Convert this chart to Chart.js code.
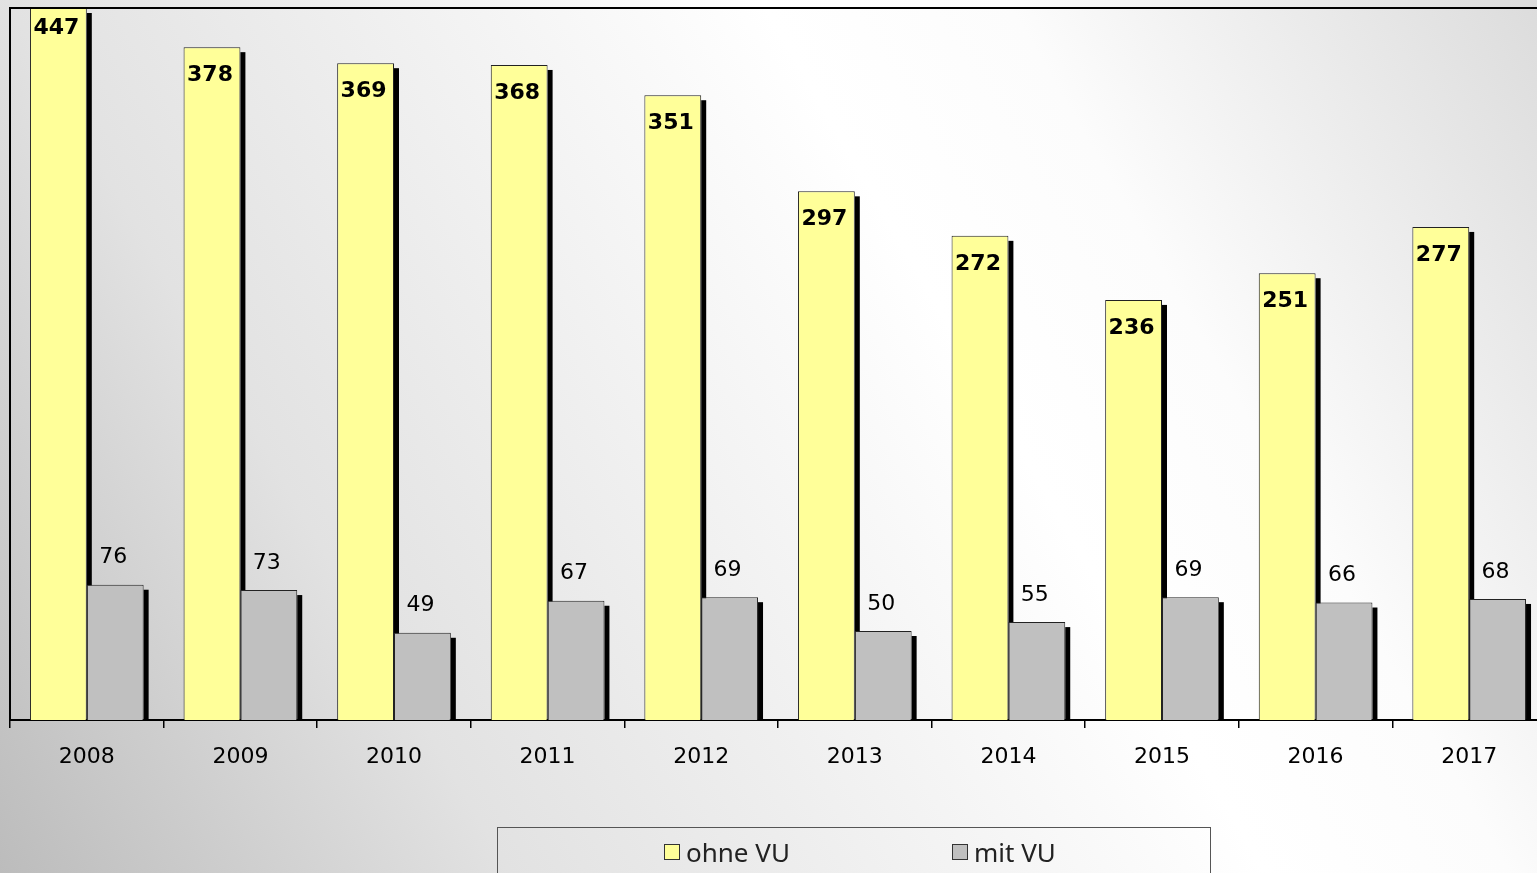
<!DOCTYPE html>
<html>
<head>
<meta charset="utf-8">
<script src="https://cdn.jsdelivr.net/npm/chart.js@4"></script>
<style>
  html, body { margin:0; padding:0; width:1537px; height:873px; overflow:hidden; }
  html { background: linear-gradient(60deg, #bcbcbc 0%, #e2e2e2 25%, #ffffff 62%, #fcfcfc 74%, #dcdcdc 100%); }
  #wrap { position:absolute; left:0; top:0; width:1550px; height:873px; }
  #legend { position:absolute; left:497px; top:827px; width:712px; height:60px; border:1.5px solid #555; font-family:"Noto Sans", sans-serif; font-size:26px; color:#222; }
  .item { position:absolute; top:6px; display:flex; align-items:center; white-space:nowrap; }
  .sw { width:14px; height:14px; border:1px solid #333; margin-right:6px; }
</style>
</head>
<body>
<div id="wrap"><canvas id="c" width="1550" height="873"></canvas></div>
<div id="legend"></div>
<script>
const categories = ["2008","2009","2010","2011","2012","2013","2014","2015","2016","2017"];
const seriesNames = ["ohne VU","mit VU"];
const ohneVU = [447,378,369,368,351,297,272,236,251,277];
const mitVU  = [76,73,49,67,69,50,55,69,66,68];
const seriesColors = ["#FFFF99","#C0C0C0"];

const legendEl = document.getElementById('legend');
const legendX = [166, 454];
seriesNames.forEach((n,i)=>{
  const d = document.createElement('div');
  d.className='item'; d.style.left = legendX[i]+'px';
  const s = document.createElement('span'); s.className='sw'; s.style.background = seriesColors[i];
  const t = document.createElement('span'); t.textContent = n;
  d.appendChild(s); d.appendChild(t); legendEl.appendChild(d);
});

const shadowPlugin = {
  id:'shadow',
  beforeDatasetsDraw(chart){
    const ctx = chart.ctx, a = chart.chartArea;
    ctx.save();
    ctx.beginPath(); ctx.rect(a.left, a.top, a.right-a.left, a.bottom-a.top); ctx.clip();
    ctx.fillStyle = '#000';
    chart.data.datasets.forEach((ds,di)=>{
      chart.getDatasetMeta(di).data.forEach(el=>{
        const top = Math.max(el.y, a.top);
        ctx.fillRect(el.x + el.width/2, top + 5, 5, el.base - top - 5);
      });
    });
    ctx.restore();
  }
};

const labelPlugin = {
  id:'labels',
  afterDatasetsDraw(chart){
    const ctx = chart.ctx, a = chart.chartArea;
    ctx.save();
    ctx.fillStyle = '#000';
    ctx.textAlign = 'center'; ctx.textBaseline = 'middle';
    chart.getDatasetMeta(0).data.forEach((el,i)=>{
      ctx.font = 'bold 22px "DejaVu Sans"';
      const y = Math.max(el.y + 28, a.top + 20);
      ctx.fillText(String(ohneVU[i]), el.x - 2, y);
    });
    chart.getDatasetMeta(1).data.forEach((el,i)=>{
      ctx.font = '22px "DejaVu Sans"';
      ctx.fillText(String(mitVU[i]), el.x - 2, el.y - 27);
    });
    ctx.restore();
  }
};

const framePlugin = {
  id:'frame',
  afterDraw(chart){
    const ctx = chart.ctx, a = chart.chartArea;
    ctx.save();
    ctx.strokeStyle = '#000'; ctx.lineWidth = 2;
    ctx.beginPath();
    ctx.moveTo(a.left, a.bottom); ctx.lineTo(a.left, a.top); ctx.lineTo(a.right, a.top);
    ctx.stroke();
    ctx.restore();
  }
};

new Chart(document.getElementById('c'), {
  type:'bar',
  data:{
    labels: categories,
    datasets:[
      { label: seriesNames[0], data: ohneVU, backgroundColor: seriesColors[0], borderColor:'#222', borderWidth:1 },
      { label: seriesNames[1], data: mitVU, backgroundColor: seriesColors[1], borderColor:'#222', borderWidth:1 }
    ]
  },
  options:{
    responsive:false, animation:false,
    layout:{ padding:{ left:10, top:8, right:4, bottom:0 } },
    datasets:{ bar:{ categoryPercentage:0.74, barPercentage:1.0 } },
    plugins:{ legend:{ display:false }, tooltip:{ enabled:false } },
    scales:{
      x:{
        afterFit(s){ s.height = 153; },
        grid:{ display:true, drawOnChartArea:false, drawTicks:true, tickLength:8, color:'#000', lineWidth:1.5, offset:true },
        border:{ display:true, color:'#000', width:2 },
        ticks:{ color:'#000', font:{ family:'DejaVu Sans', size:22 }, padding:16 }
      },
      y:{ display:false, min:0, max:400 }
    }
  },
  plugins:[shadowPlugin, labelPlugin, framePlugin]
});
</script>
</body>
</html>
